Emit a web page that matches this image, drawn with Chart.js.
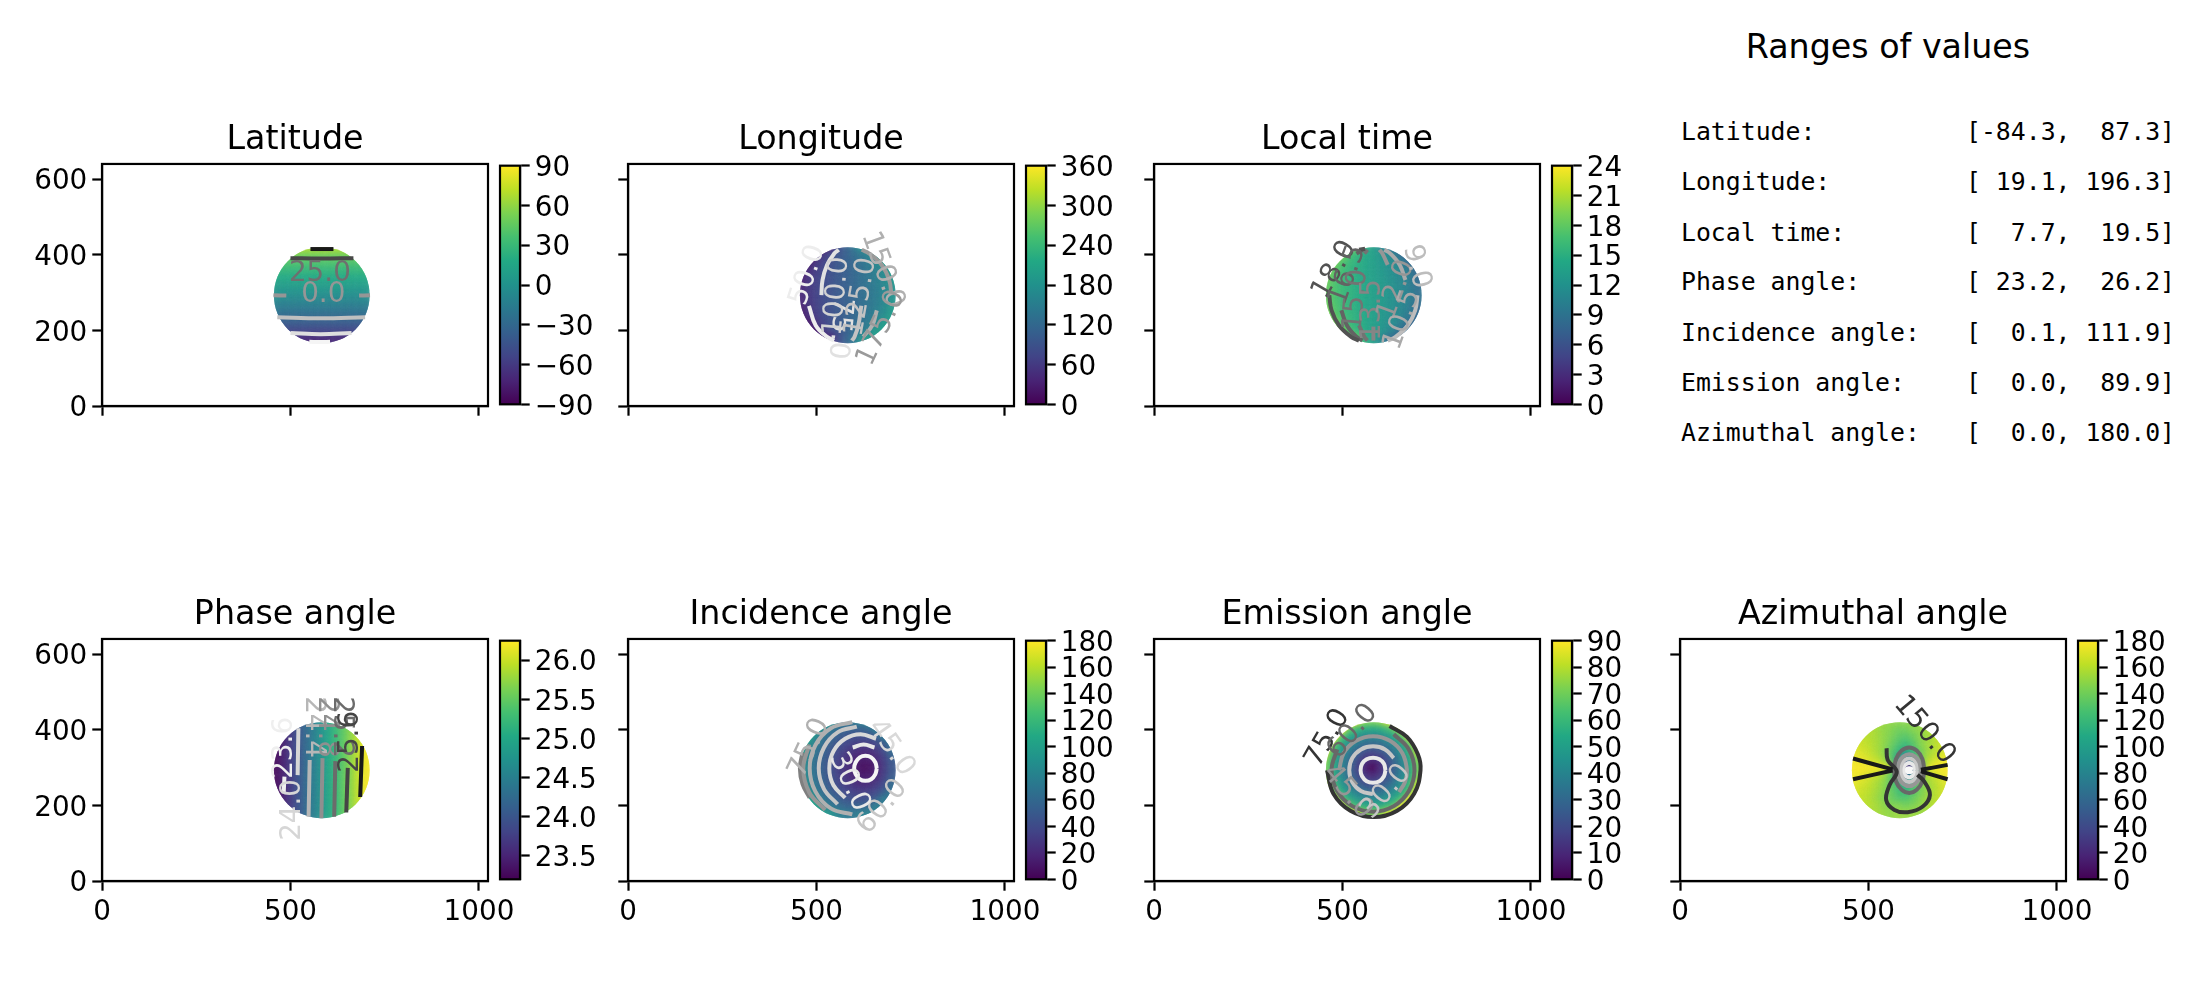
<!DOCTYPE html>
<html lang="en">
<head>
<meta charset="UTF-8">
<title>Ranges of values</title>
<style>
  body { margin: 0; background: #fff; font-family: 'DejaVu Sans', sans-serif; color: #000; }
  canvas { position: absolute; }
  #rangeTitle { position: absolute; left: 1680px; width: 416px; top: 27px; text-align: center; font-size: 33.3px; }
  .rangeRow { position: absolute; font: 24.8px 'DejaVu Sans Mono', monospace; white-space: pre; }
</style>
<script src="https://cdn.jsdelivr.net/npm/chart.js"></script>
</head>
<body>
<div id="rangeTitle">Ranges of values</div>
<script>
const _ = null;

const rangeNames = ['Latitude:', 'Longitude:', 'Local time:', 'Phase angle:', 'Incidence angle:', 'Emission angle:', 'Azimuthal angle:'];
const rangeLow = [-84.3, 19.1, 7.7, 23.2, 0.1, 0.0, 0.0];
const rangeHigh = [87.3, 196.3, 19.5, 26.2, 111.9, 89.9, 180.0];

const xTicks = [0, 500, 1000];
const yTicks = [0, 200, 400, 600];

// centres of the cells
const gridX = [462, 482, 502, 522, 542, 562, 582, 602, 622, 642, 662, 682, 702];
const gridY = [413, 393, 373, 353, 333, 313, 293, 273, 253, 233, 213, 193, 173];
const diskCentre = [583, 293];
const diskRadius = 127;

const latitudeGrid = [
  [_, _, 70, 70, 70, 70, 70, 70, 70, 70, 70, _, _],
  [_, 52, 52, 52, 52, 52, 52, 52, 52, 52, 52, 52, _],
  [39, 39, 39, 39, 39, 39, 39, 39, 39, 39, 39, 39, 39],
  [28, 28, 28, 28, 28, 28, 28, 28, 28, 28, 28, 28, 28],
  [18, 18, 18, 18, 18, 18, 18, 18, 18, 18, 18, 18, 18],
  [9, 9, 9, 9, 9, 9, 9, 9, 9, 9, 9, 9, 9],
  [0, 0, 0, 0, 0, 0, 0, 0, 0, 0, 0, 0, 0],
  [-9, -9, -9, -9, -9, -9, -9, -9, -9, -9, -9, -9, -9],
  [-18, -18, -18, -18, -18, -18, -18, -18, -18, -18, -18, -18, -18],
  [-28, -28, -28, -28, -28, -28, -28, -28, -28, -28, -28, -28, -28],
  [-39, -39, -39, -39, -39, -39, -39, -39, -39, -39, -39, -39, -39],
  [_, -52, -52, -52, -52, -52, -52, -52, -52, -52, -52, -52, _],
  [_, _, -70, -70, -70, -70, -70, -70, -70, -70, -70, _, _]
];
const longitudeGrid = [
  [_, _, 20, 20, 34, 79, 108, 137, 182, 196, 196, _, _],
  [_, 20, 20, 58, 77, 93, 108, 123, 139, 158, 196, 196, _],
  [20, 20, 54, 70, 84, 96, 108, 120, 132, 146, 162, 196, 196],
  [20, 45, 62, 76, 87, 98, 108, 118, 129, 140, 154, 171, 196],
  [24, 52, 66, 78, 88, 98, 108, 118, 128, 138, 150, 164, 192],
  [35, 55, 68, 79, 89, 99, 108, 117, 127, 137, 148, 161, 181],
  [37, 56, 69, 80, 90, 99, 108, 117, 126, 136, 147, 160, 179],
  [35, 55, 68, 79, 89, 99, 108, 117, 127, 137, 148, 161, 181],
  [24, 52, 66, 78, 88, 98, 108, 118, 128, 138, 150, 164, 192],
  [20, 45, 62, 76, 87, 98, 108, 118, 129, 140, 154, 171, 196],
  [20, 20, 54, 70, 84, 96, 108, 120, 132, 146, 162, 196, 196],
  [_, 20, 20, 58, 77, 93, 108, 123, 139, 158, 196, 196, _],
  [_, _, 20, 20, 34, 79, 108, 137, 182, 196, 196, _, _]
];
const localTimeGrid = [
  [_, _, 19.5, 19.5, 18.4, 15.4, 13.5, 11.6, 8.5, 7.7, 7.7, _, _],
  [_, 19.5, 19.5, 16.8, 15.6, 14.5, 13.5, 12.5, 11.4, 10.2, 7.7, 7.7, _],
  [19.5, 19.5, 17.1, 16.0, 15.1, 14.3, 13.5, 12.7, 11.9, 11.0, 9.9, 7.7, 7.7],
  [19.5, 17.7, 16.5, 15.6, 14.9, 14.2, 13.5, 12.8, 12.1, 11.4, 10.5, 9.3, 7.7],
  [19.1, 17.2, 16.3, 15.5, 14.8, 14.1, 13.5, 12.9, 12.2, 11.5, 10.7, 9.8, 7.9],
  [18.4, 17.0, 16.1, 15.4, 14.7, 14.1, 13.5, 12.9, 12.3, 11.6, 10.9, 10.0, 8.6],
  [18.2, 17.0, 16.1, 15.4, 14.7, 14.1, 13.5, 12.9, 12.3, 11.6, 10.9, 10.0, 8.8],
  [18.4, 17.0, 16.1, 15.4, 14.7, 14.1, 13.5, 12.9, 12.3, 11.6, 10.9, 10.0, 8.6],
  [19.1, 17.2, 16.3, 15.5, 14.8, 14.1, 13.5, 12.9, 12.2, 11.5, 10.7, 9.8, 7.9],
  [19.5, 17.7, 16.5, 15.6, 14.9, 14.2, 13.5, 12.8, 12.1, 11.4, 10.5, 9.3, 7.7],
  [19.5, 19.5, 17.1, 16.0, 15.1, 14.3, 13.5, 12.7, 11.9, 11.0, 9.9, 7.7, 7.7],
  [_, 19.5, 19.5, 16.8, 15.6, 14.5, 13.5, 12.5, 11.4, 10.2, 7.7, 7.7, _],
  [_, _, 19.5, 19.5, 18.4, 15.4, 13.5, 11.6, 8.5, 7.7, 7.7, _, _]
];
const phaseGrid = [
  [_, _, 23.7, 23.95, 24.2, 24.45, 24.7, 24.95, 25.2, 25.45, 25.7, _, _],
  [_, 23.45, 23.7, 23.95, 24.2, 24.45, 24.7, 24.95, 25.2, 25.45, 25.7, 25.95, _],
  [23.25, 23.45, 23.7, 23.95, 24.2, 24.45, 24.7, 24.95, 25.2, 25.45, 25.7, 25.95, 26.2],
  [23.25, 23.45, 23.7, 23.95, 24.2, 24.45, 24.7, 24.95, 25.2, 25.45, 25.7, 25.95, 26.2],
  [23.25, 23.45, 23.7, 23.95, 24.2, 24.45, 24.7, 24.95, 25.2, 25.45, 25.7, 25.95, 26.2],
  [23.25, 23.45, 23.7, 23.95, 24.2, 24.45, 24.7, 24.95, 25.2, 25.45, 25.7, 25.95, 26.2],
  [23.25, 23.45, 23.7, 23.95, 24.2, 24.45, 24.7, 24.95, 25.2, 25.45, 25.7, 25.95, 26.2],
  [23.25, 23.45, 23.7, 23.95, 24.2, 24.45, 24.7, 24.95, 25.2, 25.45, 25.7, 25.95, 26.2],
  [23.25, 23.45, 23.7, 23.95, 24.2, 24.45, 24.7, 24.95, 25.2, 25.45, 25.7, 25.95, 26.2],
  [23.25, 23.45, 23.7, 23.95, 24.2, 24.45, 24.7, 24.95, 25.2, 25.45, 25.7, 25.95, 26.2],
  [23.25, 23.45, 23.7, 23.95, 24.2, 24.45, 24.7, 24.95, 25.2, 25.45, 25.7, 25.95, 26.2],
  [_, 23.45, 23.7, 23.95, 24.2, 24.45, 24.7, 24.95, 25.2, 25.45, 25.7, 25.95, _],
  [_, _, 23.7, 23.95, 24.2, 24.45, 24.7, 24.95, 25.2, 25.45, 25.7, _, _]
];
const incidenceGrid = [
  [_, _, 104, 101, 91, 78, 72, 70, 77, 79, 76, _, _],
  [_, 108, 104, 79, 68, 61, 55, 52, 52, 56, 76, 72, _],
  [112, 108, 80, 67, 58, 50, 44, 40, 39, 41, 48, 72, 68],
  [112, 86, 71, 60, 50, 42, 36, 31, 28, 30, 36, 47, 68],
  [105, 79, 66, 55, 45, 37, 29, 23, 19, 19, 26, 37, 62],
  [95, 76, 63, 52, 42, 33, 25, 17, 11, 11, 19, 31, 50],
  [94, 75, 62, 51, 41, 32, 23, 14, 6, 6, 16, 29, 48],
  [95, 76, 63, 52, 42, 33, 25, 17, 11, 11, 19, 31, 50],
  [105, 79, 66, 55, 45, 37, 29, 23, 19, 19, 26, 37, 62],
  [112, 86, 71, 60, 50, 42, 36, 31, 28, 30, 36, 47, 68],
  [112, 108, 80, 67, 58, 50, 44, 40, 39, 41, 48, 72, 68],
  [_, 108, 104, 79, 68, 61, 55, 52, 52, 56, 76, 72, _],
  [_, _, 104, 101, 91, 78, 72, 70, 77, 79, 76, _, _]
];
const emissionGrid = [
  [_, _, 90, 90, 83, 73, 71, 73, 83, 90, 90, _, _],
  [_, 90, 90, 66, 58, 53, 52, 53, 58, 66, 90, 90, _],
  [90, 90, 63, 52, 45, 40, 39, 40, 45, 52, 63, 90, 90],
  [90, 66, 52, 42, 35, 30, 28, 30, 35, 42, 52, 66, 90],
  [83, 58, 45, 35, 26, 21, 18, 21, 26, 35, 45, 58, 83],
  [73, 53, 40, 30, 21, 13, 9, 13, 21, 30, 40, 53, 73],
  [71, 52, 39, 28, 18, 9, 0, 9, 18, 28, 39, 52, 71],
  [73, 53, 40, 30, 21, 13, 9, 13, 21, 30, 40, 53, 73],
  [83, 58, 45, 35, 26, 21, 18, 21, 26, 35, 45, 58, 83],
  [90, 66, 52, 42, 35, 30, 28, 30, 35, 42, 52, 66, 90],
  [90, 90, 63, 52, 45, 40, 39, 40, 45, 52, 63, 90, 90],
  [_, 90, 90, 66, 58, 53, 52, 53, 58, 66, 90, 90, _],
  [_, _, 90, 90, 83, 73, 71, 73, 83, 90, 90, _, _]
];
const azimuthGrid = [
  [_, _, 158, 156, 152, 150, 148, 148, 150, 152, 155, _, _],
  [_, 165, 160, 156, 150, 146, 140, 140, 146, 150, 156, 162, _],
  [168, 164, 160, 156, 150, 144, 135, 130, 138, 148, 154, 160, 168],
  [170, 166, 162, 157, 150, 140, 128, 118, 130, 146, 154, 160, 168],
  [174, 170, 165, 158, 150, 135, 115, 95, 118, 140, 154, 160, 170],
  [176, 175, 170, 164, 155, 135, 90, 45, 90, 140, 160, 168, 176],
  [178, 178, 178, 178, 176, 165, 85, 8, 15, 120, 172, 178, 178],
  [176, 175, 170, 164, 155, 135, 90, 45, 90, 140, 160, 168, 176],
  [174, 170, 165, 158, 150, 135, 118, 100, 118, 140, 154, 160, 170],
  [170, 166, 162, 156, 148, 138, 125, 115, 130, 142, 152, 160, 168],
  [168, 164, 160, 154, 146, 140, 130, 128, 136, 146, 154, 160, 168],
  [_, 165, 160, 156, 150, 144, 146, 140, 144, 150, 156, 162, _],
  [_, _, 158, 156, 152, 150, 152, 152, 152, 152, 155, _, _]
];

// contour lines: [level, [[x, y], ...]]
const latitudeLines = [
  [-75, [[550, 170], [578, 169], [605, 170]]],
  [-50, [[500, 193], [580, 190], [662, 193]]],
  [-25, [[465, 235], [580, 232], [698, 235]]],
  [0, [[455, 293], [489, 292]]],
  [0, [[682, 292], [711, 293]]],
  [50, [[500, 391], [580, 390], [667, 391]]],
  [75, [[553, 415], [583, 415], [614, 415]]]
];
const latitudeTags = [['25.0', 578, 349, 0, 25], ['0.0', 587, 293, 0, 0]];

const longitudeLines = [
  [50, [[480, 265], [498, 213], [528, 183], [547, 173]]],
  [75, [[513, 293], [516, 333], [528, 373], [547, 403], [559, 413]]],
  [125, [[619, 265], [611, 213], [601, 183], [594, 173]]],
  [150, [[660, 253], [648, 213], [624, 183]]],
  [175, [[699, 293], [693, 333], [673, 373], [640, 403], [620, 413]]]
];
const longitudeTags = [
  ['50.0', 477, 346, -72, 50], ['75.0', 561, 205, 95, 75], ['100.0', 554, 290, -85, 100],
  ['125.0', 618, 288, -80, 125], ['150.0', 675, 360, 70, 150], ['175.0', 672, 206, -65, 175]
];

const localTimeLines = [
  [18, [[465, 293], [471, 253], [491, 213], [523, 183], [544, 173]]],
  [18, [[544, 413], [560, 416]]],
  [16.5, [[497, 253], [512, 213], [537, 183], [553, 173]]],
  [16.5, [[537, 403], [553, 413]]],
  [15, [[544, 213], [558, 183], [566, 173]]],
  [15, [[558, 403], [566, 413]]],
  [13.5, [[582, 173], [582, 210]]],
  [12, [[598, 413], [606, 403], [620, 373]]],
  [10.5, [[611, 413], [627, 403], [652, 373], [667, 333]]],
  [9, [[699, 293], [693, 253], [673, 213], [641, 183], [620, 173]]]
];
const localTimeTags = [
  ['18.0', 479, 360, -60, 18], ['16.5', 514, 346, -70, 16.5], ['15.0', 536, 280, -85, 15],
  ['13.5', 580, 254, -90, 13.5], ['12.0', 643, 307, -70, 12], ['10.5', 659, 228, -70, 10.5], ['9.0', 696, 368, 75, 9]
];

const phaseLines = [
  [23.6, [[484, 276], [482, 232]]],
  [24.0, [[521, 404], [519, 280]]],
  [24.4, [[551, 320], [548, 170]]],
  [24.8, [[585, 325], [582, 166]]],
  [25.2, [[619, 317], [616, 170]]],
  [25.6, [[652, 299], [648, 181]]],
  [26.0, [[690, 357], [685, 222]]]
];
const phaseTags = [
  ['23.6', 484, 352, -90, 23.6], ['24.0', 505, 188, -90, 24.0], ['24.4', 561, 407, 90, 24.4],
  ['24.8', 596, 407, 90, 24.8], ['25.2', 635, 407, 90, 25.2], ['25.6', 661, 368, -90, 25.6]
];

const incidenceLines = [
  [15, [[660, 298], [656, 314], [645, 327], [630, 331], [615, 327], [604, 314], [600, 298], [604, 282], [615, 269], [630, 265], [645, 269], [656, 282], [660, 298]]],
  [30, [[654, 353], [625, 361], [596, 353]]],
  [45, [[658, 376], [617, 388], [576, 376], [545, 343], [534, 298], [545, 253], [576, 220]]],
  [60, [[607, 408], [556, 393], [520, 353], [506, 298], [520, 243], [556, 203]]],
  [75, [[595, 420], [538, 404], [497, 359], [482, 298], [497, 237], [538, 192], [595, 176]]],
  [90, [[481, 361], [465, 298], [481, 234], [523, 188]]],
  [105, [[463, 340], [456, 298], [463, 256], [482, 220]]]
];
const incidenceTags = [
  ['75.0', 481, 352, -65, 75], ['45.0', 698, 352, 55, 45], ['60.0', 675, 196, -50, 60], ['30.0', 587, 262, 65, 30]
];

const emissionLines = [
  [15, [[614, 293], [610, 310], [598, 322], [581, 326], [564, 322], [552, 310], [548, 293], [552, 277], [564, 264], [581, 260], [598, 264], [610, 277], [614, 293]]],
  [30, [[636, 325], [613, 348], [581, 356], [549, 348], [526, 325], [518, 293], [526, 262], [549, 238], [581, 230]]],
  [45, [[650, 235], [666, 262], [671, 293], [659, 338], [626, 371], [581, 383], [536, 371], [503, 338], [491, 293]]],
  [60, [[636, 388], [676, 348], [691, 293], [676, 238], [636, 198], [581, 183], [526, 198], [486, 238], [471, 293], [486, 348]]],
  [75, [[625, 410], [671, 381], [700, 335], [707, 293], [690, 231], [645, 186], [583, 169], [521, 186], [476, 231], [459, 293]]]
];
const emissionTags = [
  ['75.0', 461, 378, -60, 75], ['60.0', 527, 395, -50, 60], ['45.0', 514, 236, 50, 45], ['30.0', 616, 236, -50, 30]
];

const azimuthLines = [
  [165, [[459, 324], [564, 295]]],
  [165, [[459, 269], [564, 292]]],
  [165, [[710, 307], [639, 294]]],
  [165, [[710, 269], [639, 290]]],
  [150, [[548, 351], [551, 320], [575, 289], [556, 254], [547, 214], [569, 188], [604, 182], [644, 197], [663, 228], [648, 263], [630, 281]]],
  [120, [[648, 293], [643, 323], [628, 345], [608, 353], [588, 345], [573, 323], [568, 293], [573, 263], [588, 241], [608, 233], [628, 241], [643, 263], [648, 293]]],
  [90, [[639, 293], [635, 314], [624, 329], [608, 335], [592, 329], [581, 314], [577, 293], [581, 272], [592, 257], [608, 251], [624, 257], [635, 272], [639, 293]]],
  [60, [[631, 293], [628, 308], [620, 320], [608, 324], [596, 320], [588, 308], [585, 293], [588, 278], [596, 266], [608, 262], [620, 266], [628, 278], [631, 293]]],
  [30, [[624, 293], [622, 303], [616, 309], [608, 312], [600, 309], [594, 303], [592, 293], [594, 283], [600, 277], [608, 274], [616, 277], [622, 283], [624, 293]]],
  [10, [[616, 293], [614, 297], [608, 298], [602, 297], [600, 293], [602, 289], [608, 288], [614, 289], [616, 293]]]
];
const azimuthTags = [['150.0', 648, 399, 50, 150]];

const latitudeTicks = [-90, -60, -30, 0, 30, 60, 90];
const longitudeTicks = [0, 60, 120, 180, 240, 300, 360];
const localTimeTicks = [0, 3, 6, 9, 12, 15, 18, 21, 24];
const phaseTicks = [23.5, 24.0, 24.5, 25.0, 25.5, 26.0];
const incidenceTicks = [0, 20, 40, 60, 80, 100, 120, 140, 160, 180];
const emissionTicks = [0, 10, 20, 30, 40, 50, 60, 70, 80, 90];
const azimuthTicks = [0, 20, 40, 60, 80, 100, 120, 140, 160, 180];

const viridisStops = ['#440154', '#482475', '#414487', '#355f8d', '#2a788e', '#21918c', '#22a884', '#44bf70', '#7ad151', '#bddf26', '#fde725'];
const greysStops = [255, 240, 217, 189, 150, 115, 82, 37, 0];

const panels = [
  { title: 'Latitude', col: 0, row: 0, grid: latitudeGrid, lines: latitudeLines, tags: latitudeTags, range: [-90, 90], barTicks: latitudeTicks },
  { title: 'Longitude', col: 1, row: 0, grid: longitudeGrid, lines: longitudeLines, tags: longitudeTags, range: [0, 360], barTicks: longitudeTicks },
  { title: 'Local time', col: 2, row: 0, grid: localTimeGrid, lines: localTimeLines, tags: localTimeTags, range: [0, 24], barTicks: localTimeTicks },
  { title: 'Phase angle', col: 0, row: 1, grid: phaseGrid, lines: phaseLines, tags: phaseTags, range: [23.2, 26.25], barTicks: phaseTicks, digits: 1 },
  { title: 'Incidence angle', col: 1, row: 1, grid: incidenceGrid, lines: incidenceLines, tags: incidenceTags, range: [0, 180], barTicks: incidenceTicks },
  { title: 'Emission angle', col: 2, row: 1, grid: emissionGrid, lines: emissionLines, tags: emissionTags, range: [0, 90], barTicks: emissionTicks },
  { title: 'Azimuthal angle', col: 3, row: 1, grid: azimuthGrid, lines: azimuthLines, tags: azimuthTags, range: [0, 180], barTicks: azimuthTicks }
];

const frameLefts = [102, 628, 1154, 1680];
const frameTops = [164, 639];
const frameWidth = 386;
const frameHeight = 242;
const axisWidth = 70, titleHeight = 48, axisHeight = 48, rightPad = 34;
const lineW = 2.2, tickLen = 9.7, fontName = 'DejaVu Sans', tickSize = 27.8;

function viridis(t) {
  t = Math.min(1, Math.max(0, t)) * (viridisStops.length - 1);
  const i = Math.min(Math.floor(t), viridisStops.length - 2), f = t - i;
  const a = parseInt(viridisStops[i].slice(1), 16), b = parseInt(viridisStops[i + 1].slice(1), 16);
  const mix = s => Math.round(((a >> s) & 255) * (1 - f) + ((b >> s) & 255) * f);
  return `rgb(${mix(16)},${mix(8)},${mix(0)})`;
}

function grey(t) {
  t = Math.min(1, Math.max(0, t)) * (greysStops.length - 1);
  const i = Math.min(Math.floor(t), greysStops.length - 2), f = t - i;
  const g = Math.round(greysStops[i] * (1 - f) + greysStops[i + 1] * f);
  return `rgb(${g},${g},${g})`;
}

function addCanvas(left, top, width, height) {
  const c = document.createElement('canvas');
  c.width = width; c.height = height;
  c.style.left = left + 'px'; c.style.top = top + 'px';
  c.style.width = width + 'px'; c.style.height = height + 'px';
  document.body.appendChild(c);
  return c.getContext('2d');
}

// the top and right sides of the box
const framePlugin = {
  id: 'frame',
  afterDraw(chart) {
    const { ctx, chartArea: a } = chart;
    ctx.save();
    ctx.strokeStyle = '#000';
    ctx.lineWidth = lineW;
    ctx.strokeRect(a.left, a.top, a.right - a.left, a.bottom - a.top);
    ctx.restore();
  }
};

// cells are soft and clipped to the round disk
const diskPlugin = {
  id: 'disk',
  beforeDatasetDraw(chart, args) {
    if (!chart.data.datasets[args.index].isDisk) return;
    const { ctx, scales } = chart;
    const cx = scales.x.getPixelForValue(diskCentre[0]), cy = scales.y.getPixelForValue(diskCentre[1]);
    const rx = scales.x.getPixelForValue(diskCentre[0] + diskRadius) - cx;
    const ry = cy - scales.y.getPixelForValue(diskCentre[1] + diskRadius);
    ctx.save();
    ctx.beginPath();
    ctx.ellipse(cx, cy, rx, ry, 0, 0, Math.PI * 2);
    ctx.clip();
    ctx.filter = 'blur(3px)';
  },
  afterDatasetDraw(chart, args) {
    if (chart.data.datasets[args.index].isDisk) chart.ctx.restore();
  }
};

// inline contour labels
const tagPlugin = {
  id: 'tags',
  afterDatasetsDraw(chart, args, opts) {
    const { ctx, scales } = chart;
    ctx.save();
    ctx.font = `${tickSize}px '${fontName}'`;
    ctx.textAlign = 'center';
    ctx.textBaseline = 'middle';
    opts.tags.forEach(([text, x, y, angle, level]) => {
      ctx.save();
      ctx.translate(scales.x.getPixelForValue(x), scales.y.getPixelForValue(y));
      ctx.rotate(angle * Math.PI / 180);
      ctx.fillStyle = grey((level - opts.range[0]) / (opts.range[1] - opts.range[0]));
      ctx.fillText(text, 0, 0);
      ctx.restore();
    });
    ctx.restore();
  }
};

function axisStyle(ticks, shown, fit, labelShift) {
  return {
    afterBuildTicks: s => { s.ticks = ticks.map(v => ({ value: v })); },
    afterFit: fit,
    grid: { drawOnChartArea: false, drawTicks: true, tickLength: tickLen, tickColor: '#000', tickWidth: lineW },
    border: { display: true, color: '#000', width: lineW },
    ticks: {
      color: '#000', padding: 5, autoSkip: false, maxRotation: 0, minRotation: 0, labelOffset: labelShift,
      font: { family: fontName, size: tickSize },
      callback: shown
    }
  };
}

function drawPanel(p) {
  const left = frameLefts[p.col], top = frameTops[p.row];
  const ctx = addCanvas(left - axisWidth, top - titleHeight, axisWidth + frameWidth + rightPad, titleHeight + frameHeight + axisHeight);
  const span = p.range[1] - p.range[0];
  const cells = [], colours = [];
  p.grid.forEach((row, r) => row.forEach((v, c) => {
    if (v === null) return;
    cells.push({ x: gridX[c], y: gridY[r] });
    colours.push(viridis((v - p.range[0]) / span));
  }));
  const datasets = [{
    isDisk: true, data: cells, order: 100, pointStyle: 'rect', pointRadius: 8,
    pointBackgroundColor: colours, pointBorderWidth: 0, showLine: false
  }];
  p.lines.forEach(([level, pts]) => datasets.push({
    data: pts.map(q => ({ x: q[0], y: q[1] })), order: 1, showLine: true, pointRadius: 0,
    borderColor: grey((level - p.range[0]) / span), borderWidth: 4, tension: 0.4, fill: false
  }));
  new Chart(ctx, {
    type: 'scatter',
    data: { datasets },
    plugins: [diskPlugin, tagPlugin, framePlugin],
    options: {
      responsive: false, animation: false, devicePixelRatio: 1, events: [],
      layout: { padding: { right: rightPad } },
      plugins: {
        legend: { display: false }, tooltip: { enabled: false },
        title: {
          display: true, text: p.title, color: '#000', fullSize: false,
          font: { family: fontName, size: 33.3, weight: 'normal' }, padding: { top: 4, bottom: 4 }
        },
        tags: { tags: p.tags, range: p.range }
      },
      scales: {
        x: Object.assign({ type: 'linear', min: 0, max: 1024 }, axisStyle(xTicks, p.row === 1 ? (v => v) : (() => ''), s => { s.height = axisHeight; }, 0)),
        y: Object.assign({ type: 'linear', min: 0, max: 640 }, axisStyle(yTicks, p.col === 0 ? (v => v) : (() => ''), s => { s.width = axisWidth; }, 3))
      }
    }
  });
}

function drawColourbar(p) {
  const left = frameLefts[p.col] + frameWidth + 12, top = frameTops[p.row];
  const barWidth = 20, pad = 20, labelWidth = 100;
  const ctx = addCanvas(left - 2, top - pad, 2 + barWidth + labelWidth, frameHeight + 2 * pad);
  const fmt = v => (p.digits ? v.toFixed(p.digits) : String(v)).replace('-', '\u2212');
  new Chart(ctx, {
    type: 'bar',
    data: {
      labels: [''],
      datasets: [{
        data: [p.range],
        barPercentage: 1, categoryPercentage: 1,
        backgroundColor: c => {
          const { chart } = c;
          if (!chart.chartArea) return '#000';
          const g = chart.ctx.createLinearGradient(0, chart.chartArea.bottom, 0, chart.chartArea.top);
          viridisStops.forEach((s, i) => g.addColorStop(i / (viridisStops.length - 1), s));
          return g;
        }
      }]
    },
    plugins: [framePlugin],
    options: {
      responsive: false, animation: false, devicePixelRatio: 1, events: [],
      layout: { padding: { left: 2, top: pad, bottom: pad } },
      plugins: { legend: { display: false }, tooltip: { enabled: false } },
      scales: {
        x: { display: false },
        y: Object.assign({ type: 'linear', position: 'right', min: p.range[0], max: p.range[1] },
          axisStyle(p.barTicks, fmt, s => { s.width = labelWidth; }, 3))
      }
    }
  });
}

panels.forEach(p => { drawPanel(p); drawColourbar(p); });

const rowTops = [117, 167, 218, 267, 318, 368, 418];
rangeNames.forEach((name, i) => {
  const cell = (text, x) => {
    const d = document.createElement('div');
    d.className = 'rangeRow';
    d.style.left = x + 'px';
    d.style.top = rowTops[i] + 'px';
    d.textContent = text;
    document.body.appendChild(d);
  };
  cell(name, 1681);
  cell(`[${rangeLow[i].toFixed(1).padStart(5)}, ${rangeHigh[i].toFixed(1).padStart(5)}]`, 1966);
});
</script>
</body>
</html>
